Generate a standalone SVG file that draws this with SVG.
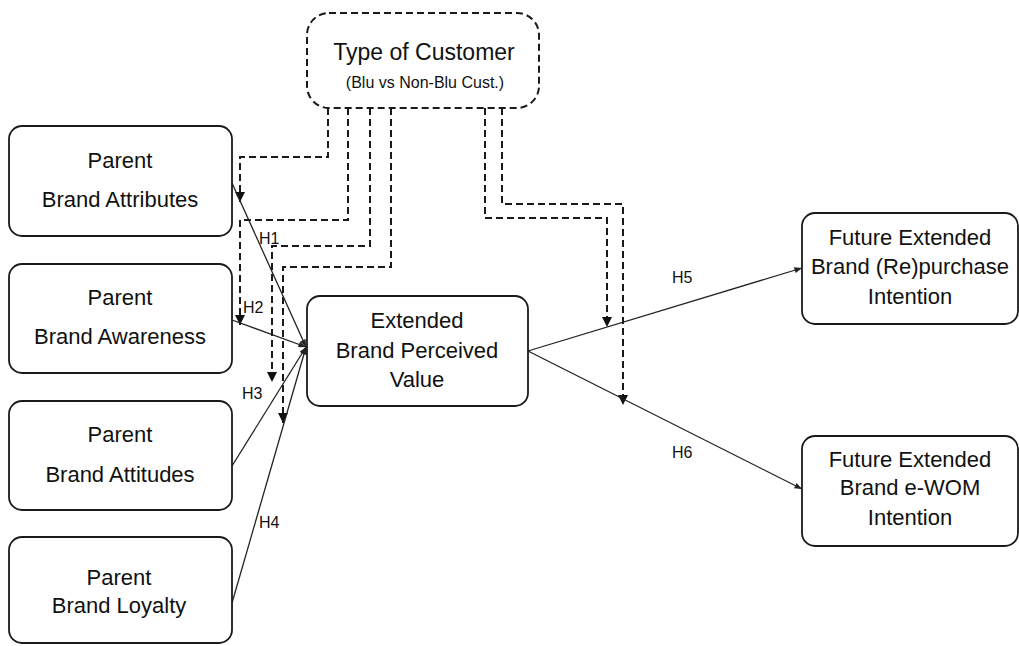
<svg xmlns="http://www.w3.org/2000/svg" width="1019" height="646" viewBox="0 0 1019 646">
  <style>
    .box { fill: #ffffff; stroke: #1a1a1a; stroke-width: 1.8; }
    .dbox { fill: #ffffff; stroke: #1a1a1a; stroke-width: 2; stroke-dasharray: 7 4; }
    .t { font-family: "Liberation Sans", Arial, sans-serif; font-size: 22px; fill: #111; text-anchor: middle; }
    .ts { font-family: "Liberation Sans", Arial, sans-serif; font-size: 16px; fill: #111; text-anchor: middle; }
    .lbl { font-family: "Liberation Sans", Arial, sans-serif; font-size: 16px; fill: #111; }
    .solid { fill: none; stroke: #222; stroke-width: 1.3; marker-end: url(#arr); }
    .dash { fill: none; stroke: #1a1a1a; stroke-width: 2; stroke-dasharray: 7 4; marker-end: url(#arrD); }
  </style>
  <defs>
    <marker id="arr" viewBox="0 0 10 8" refX="10" refY="4" markerWidth="8" markerHeight="6" markerUnits="userSpaceOnUse" orient="auto">
      <path d="M0,0 L10,4 L0,8 Z" fill="#222"/>
    </marker>
    <marker id="arrD" viewBox="0 0 10 10" refX="10" refY="5" markerWidth="10" markerHeight="10" markerUnits="userSpaceOnUse" orient="auto">
      <path d="M0,0 L10,5 L0,10 Z" fill="#111"/>
    </marker>
  </defs>

  <g id="connectors">
    <path class="dash" d="M328 108 V157 H240 V202"/>
    <path class="dash" d="M348 108 V220 H240 V325"/>
    <path class="dash" d="M370 108 V246 H272 V382"/>
    <path class="dash" d="M391 108 V267 H283 V423"/>
    <path class="dash" d="M485 108 V218 H607 V327"/>
    <path class="dash" d="M502 108 V204 H623 V405"/>
    <path class="solid" d="M232 183 L306 347"/>
    <path class="solid" d="M232 320 L306 347"/>
    <path class="solid" d="M232 466 L306 347"/>
    <path class="solid" d="M232 603 L306 347"/>
    <path class="solid" d="M528 351 L802 268"/>
    <path class="solid" d="M528 351 L802 489"/>
    <text class="lbl" x="259" y="244">H1</text>
    <text class="lbl" x="243" y="313">H2</text>
    <text class="lbl" x="242" y="399">H3</text>
    <text class="lbl" x="259" y="528">H4</text>
    <text class="lbl" x="672" y="283">H5</text>
    <text class="lbl" x="672" y="458">H6</text>
  </g>

  <g id="type-of-customer">
    <rect class="dbox" x="307" y="13" width="232" height="95" rx="22"/>
    <text class="t" x="424" y="60" style="font-size:23px">Type of Customer</text>
    <text class="ts" x="425" y="88">(Blu vs Non-Blu Cust.)</text>
  </g>

  <g id="parent-brand-attributes">
    <rect class="box" x="9" y="126" width="223" height="110" rx="13"/>
    <text class="t" x="120" y="168">Parent</text>
    <text class="t" x="120" y="207">Brand Attributes</text>
  </g>

  <g id="parent-brand-awareness">
    <rect class="box" x="9" y="264" width="223" height="109" rx="13"/>
    <text class="t" x="120" y="305">Parent</text>
    <text class="t" x="120" y="344">Brand Awareness</text>
  </g>

  <g id="parent-brand-attitudes">
    <rect class="box" x="9" y="401" width="223" height="109" rx="13"/>
    <text class="t" x="120" y="442">Parent</text>
    <text class="t" x="120" y="482">Brand Attitudes</text>
  </g>

  <g id="parent-brand-loyalty">
    <rect class="box" x="9" y="537" width="223" height="106" rx="13"/>
    <text class="t" x="119" y="585">Parent</text>
    <text class="t" x="119" y="613">Brand Loyalty</text>
  </g>

  <g id="extended-brand-perceived-value">
    <rect class="box" x="307" y="296" width="221" height="110" rx="13"/>
    <text class="t" x="417" y="328">Extended</text>
    <text class="t" x="417" y="358">Brand Perceived</text>
    <text class="t" x="417" y="387">Value</text>
  </g>

  <g id="future-repurchase-intention">
    <rect class="box" x="802" y="213" width="216" height="111" rx="13"/>
    <text class="t" x="910" y="245">Future Extended</text>
    <text class="t" x="910" y="274">Brand (Re)purchase</text>
    <text class="t" x="910" y="304">Intention</text>
  </g>

  <g id="future-ewom-intention">
    <rect class="box" x="802" y="436" width="216" height="110" rx="13"/>
    <text class="t" x="910" y="467">Future Extended</text>
    <text class="t" x="910" y="495">Brand e-WOM</text>
    <text class="t" x="910" y="525">Intention</text>
  </g>
</svg>
